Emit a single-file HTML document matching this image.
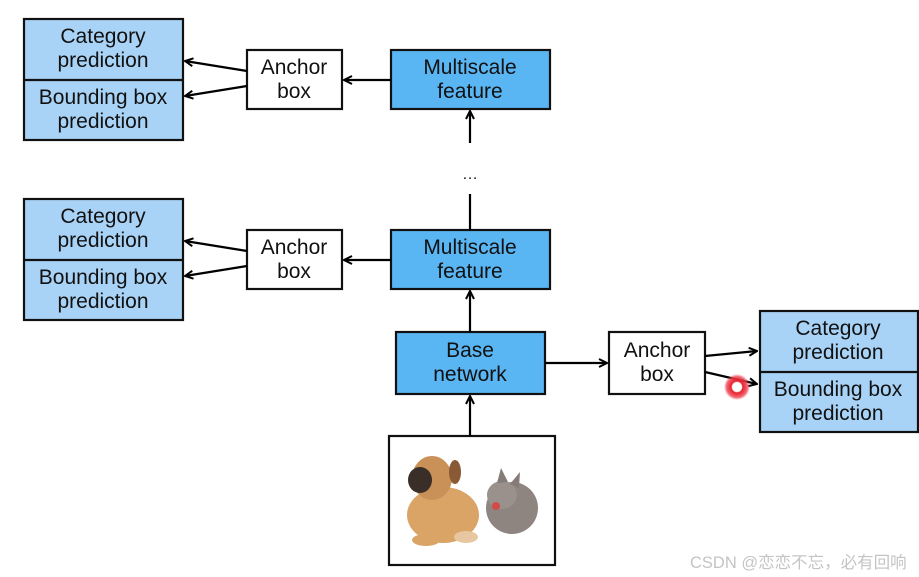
<!DOCTYPE html>
<html><head><meta charset="utf-8"><style>
html,body{margin:0;padding:0;background:#fff;}
svg{display:block;}
text{font-family:"Liberation Sans",sans-serif;font-size:21px;fill:#111;text-anchor:middle;}
.w{font-family:"Liberation Sans","Noto Sans CJK SC",sans-serif;font-size:16.5px;fill:#c4c4c4;text-anchor:start;}
</style></head><body>
<svg width="919" height="577" viewBox="0 0 919 577" xmlns="http://www.w3.org/2000/svg">
<defs>
<marker id="a" markerWidth="10" markerHeight="10" refX="9" refY="5" orient="auto" markerUnits="userSpaceOnUse">
<path d="M1,1 L9,5 L1,9" fill="none" stroke="#000" stroke-width="2"/>
</marker>
<radialGradient id="rd"><stop offset="0.35" stop-color="#fff"/><stop offset="0.45" stop-color="#e8202a"/><stop offset="0.8" stop-color="#f04050" stop-opacity="0.8"/><stop offset="1" stop-color="#f04050" stop-opacity="0"/></radialGradient>
</defs>
<g stroke="#111" stroke-width="2.2">
<rect x="24" y="19" width="159" height="121" fill="#a9d3f6"/>
<line x1="24" y1="80" x2="183" y2="80"/>
<rect x="24" y="199" width="159" height="121" fill="#a9d3f6"/>
<line x1="24" y1="260" x2="183" y2="260"/>
<rect x="760" y="311" width="158" height="121" fill="#a9d3f6"/>
<line x1="760" y1="372" x2="918" y2="372"/>
<rect x="247" y="50" width="95" height="59" fill="#fff"/>
<rect x="247" y="230" width="95" height="59" fill="#fff"/>
<rect x="609" y="332" width="96" height="62" fill="#fff"/>
<rect x="391" y="50" width="159" height="59" fill="#5ab5f3"/>
<rect x="391" y="230" width="159" height="59" fill="#5ab5f3"/>
<rect x="396" y="332" width="149" height="62" fill="#5ab5f3"/>
<rect x="389" y="436" width="166" height="129" fill="#fff"/>
</g>
<g stroke="#000" stroke-width="2.2" fill="none" marker-end="url(#a)">
<line x1="247" y1="71" x2="185" y2="61"/>
<line x1="247" y1="86" x2="185" y2="96"/>
<line x1="247" y1="251" x2="185" y2="241"/>
<line x1="247" y1="266" x2="185" y2="276"/>
<line x1="391" y1="80" x2="344" y2="80"/>
<line x1="391" y1="260" x2="344" y2="260"/>
<line x1="470" y1="143" x2="470" y2="111"/>
<line x1="470" y1="332" x2="470" y2="291"/>
<line x1="470" y1="436" x2="470" y2="396"/>
<line x1="545" y1="363" x2="607" y2="363"/>
<line x1="705" y1="356" x2="757" y2="351"/>
<line x1="705" y1="372" x2="757" y2="384"/>
</g>
<line x1="470" y1="194" x2="470" y2="230" stroke="#000" stroke-width="2.2"/>
<text x="470" y="179" style="font-size:16px">…</text>
<g>
<text x="103" y="43">Category</text><text x="103" y="67">prediction</text>
<text x="103" y="104">Bounding box</text><text x="103" y="128">prediction</text>
<text x="103" y="223">Category</text><text x="103" y="247">prediction</text>
<text x="103" y="284">Bounding box</text><text x="103" y="308">prediction</text>
<text x="838" y="335">Category</text><text x="838" y="359">prediction</text>
<text x="838" y="396">Bounding box</text><text x="838" y="420">prediction</text>
<text x="294" y="74">Anchor</text><text x="294" y="98">box</text>
<text x="294" y="254">Anchor</text><text x="294" y="278">box</text>
<text x="657" y="357">Anchor</text><text x="657" y="381">box</text>
<text x="470" y="74">Multiscale</text><text x="470" y="98">feature</text>
<text x="470" y="254">Multiscale</text><text x="470" y="278">feature</text>
<text x="470" y="357">Base</text><text x="470" y="381">network</text>
</g>
<g>
<ellipse cx="443" cy="515" rx="36" ry="28" fill="#d9a466"/>
<ellipse cx="432" cy="478" rx="20" ry="22" fill="#c99058"/>
<ellipse cx="420" cy="480" rx="12" ry="13" fill="#3a2e28"/>
<ellipse cx="455" cy="472" rx="6" ry="12" fill="#8a5a36"/>
<ellipse cx="426" cy="540" rx="14" ry="6" fill="#d9a466"/>
<ellipse cx="466" cy="537" rx="12" ry="6" fill="#e6c7a0"/>
<ellipse cx="512" cy="508" rx="26" ry="26" fill="#8e8580"/>
<ellipse cx="502" cy="495" rx="15" ry="14" fill="#9a918c"/>
<path d="M497,483 L501,468 L508,482 Z M510,484 L520,472 L519,488 Z" fill="#857c77"/>
<ellipse cx="496" cy="506" rx="4" ry="4" fill="#d24a4a"/>
</g>
<circle cx="737" cy="387" r="13" fill="url(#rd)"/>
<text class="w" x="690" y="568">CSDN @恋恋不忘，必有回响</text>
</svg>
</body></html>
